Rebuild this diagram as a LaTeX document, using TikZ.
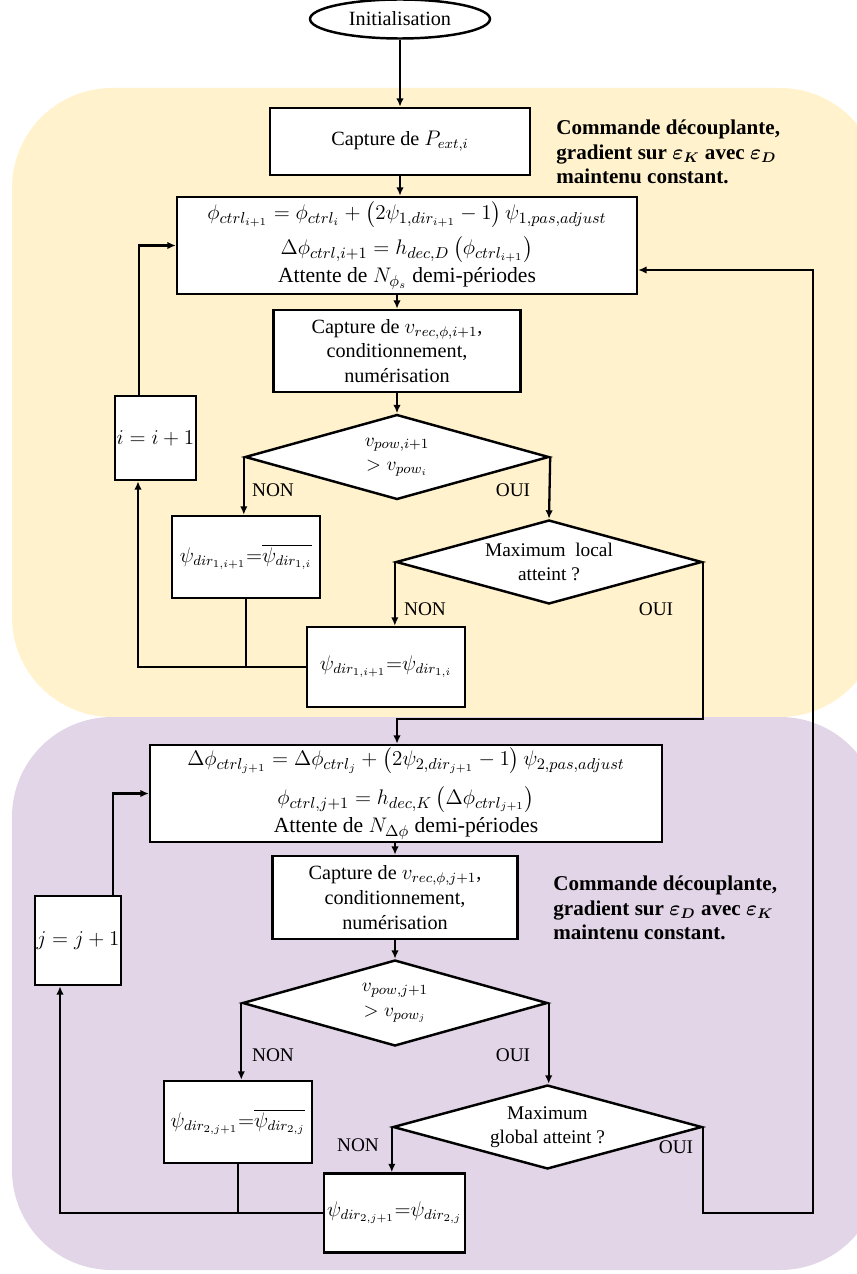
\documentclass[tikz,border=0pt]{standalone}
\usepackage{amsmath,amssymb}
\usepackage{bm}
\usepackage{fontspec}
\setmainfont{Liberation Serif}
\usepackage{tikz}
\usetikzlibrary{arrows.meta,positioning,calc,shapes.geometric}
\definecolor{zoneK}{HTML}{FFF2CC}
\definecolor{zoneD}{HTML}{E1D5E7}

\begin{document}
\begin{tikzpicture}[x=0.02cm,y=-0.02cm,
  stepbox/.style={draw,fill=white,line width=1.4pt,align=center,inner sep=1pt,font=\fontsize{11.5}{14}\selectfont},
  bigbox/.style={stepbox,font=\fontsize{12.3}{15}\selectfont},
  decision/.style={diamond,aspect=3.6,draw,fill=white,line width=1.4pt,align=center,inner sep=0pt,font=\fontsize{11}{14}\selectfont},
  arr/.style={line width=1.3pt,-{Latex[length=1.7mm,width=1.5mm]}},
  link/.style={line width=1.3pt},
  tag/.style={font=\fontsize{11}{13}\selectfont,inner sep=0pt},
  note/.style={align=left,inner sep=0pt,font=\bfseries\fontsize{12}{14}\selectfont}]
  \useasboundingbox (0,0) rectangle (856,1274);
  % background zones
  \fill[zoneK,rounded corners=2cm] (12,88) rectangle (880,717);
  \fill[zoneD,rounded corners=2cm] (12,717) rectangle (880,1270);
  % zone notes
  \node[note,anchor=west] (noteK) at (556,152) {Commande découplante,\\gradient sur $\bm{\varepsilon_K}$ avec $\bm{\varepsilon_D}$\\maintenu constant.};
  \node[note,anchor=west] (noteD) at (553,908) {Commande découplante,\\gradient sur $\bm{\varepsilon_D}$ avec $\bm{\varepsilon_K}$\\maintenu constant.};
  % first loop
  \node[ellipse,draw,fill=white,line width=1.4pt,minimum width=3.6cm,minimum height=0.78cm,font=\fontsize{11.5}{14}\selectfont] (init) at (400,19) {Initialisation};
  \node[stepbox,minimum width=5.2cm,minimum height=1.34cm] (pext) at (400,141.5) {Capture de $P_{ext,i}$};
  \node[bigbox,minimum width=9.2cm,minimum height=1.94cm] (upd1) at (407,245.5)
    {$\phi_{ctrl_{i+1}}=\phi_{ctrl_i}+\left(2\psi_{1,dir_{i+1}}-1\right)\psi_{1,pas,adjust}$\\[5pt]
     $\Delta\phi_{ctrl,i+1}=h_{dec,D}\left(\phi_{ctrl_{i+1}}\right)$\\[1pt]
     Attente de $N_{\phi_s}$ demi-périodes};
  \node[stepbox,minimum width=4.94cm,minimum height=1.64cm] (cap1) at (397,351) {Capture de $v_{rec,\phi,i+1}$,\\conditionnement,\\numérisation};
  \node[decision,minimum width=6.08cm,minimum height=1.7cm] (test1) at (397,457) {$v_{pow,i+1}$\\$>v_{pow_i}$};
  \node[decision,minimum width=6.12cm,minimum height=1.68cm] (max1) at (549,562) {Maximum~~local\\atteint ?};
  \node[stepbox,minimum width=1.5cm,minimum height=1.68cm] (inc1) at (155.5,438) {$i=i+1$};
  \node[stepbox,minimum width=2.96cm,minimum height=1.64cm] (inv1) at (246,557) {$\psi_{dir_{1,i+1}}{=}\overline{\psi_{dir_{1,i}}}$};
  \node[stepbox,minimum width=3.16cm,minimum height=1.6cm] (keep1) at (386,667) {$\psi_{dir_{1,i+1}}{=}\psi_{dir_{1,i}}$};
  \node[tag] (non1) at (273,490) {NON};
  \node[tag] (oui1) at (513,490) {OUI};
  \node[tag] (non2) at (425,609) {NON};
  \node[tag] (oui2) at (656,609) {OUI};
  % second loop
  \node[bigbox,minimum width=10.24cm,minimum height=1.94cm] (upd2) at (406,793.5)
    {$\Delta\phi_{ctrl_{j+1}}=\Delta\phi_{ctrl_j}+\left(2\psi_{2,dir_{j+1}}-1\right)\psi_{2,pas,adjust}$\\[7pt]
     $\phi_{ctrl,j+1}=h_{dec,K}\left(\Delta\phi_{ctrl_{j+1}}\right)$\\[1pt]
     Attente de $N_{\Delta\phi}$ demi-périodes};
  \node[stepbox,minimum width=4.9cm,minimum height=1.66cm] (cap2) at (395,897.5) {Capture de $v_{rec,\phi,j+1}$,\\conditionnement,\\numérisation};
  \node[decision,minimum width=6.1cm,minimum height=1.72cm] (test2) at (395,1003) {$v_{pow,j+1}$\\$>v_{pow_j}$};
  \node[decision,minimum width=6.18cm,minimum height=1.68cm] (max2) at (547.5,1127) {Maximum\\global atteint ?};
  \node[stepbox,minimum width=1.6cm,minimum height=1.78cm] (inc2) at (78,940.5) {$j=j+1$};
  \node[stepbox,minimum width=2.96cm,minimum height=1.64cm] (inv2) at (238,1122) {$\psi_{dir_{2,j+1}}{=}\overline{\psi_{dir_{2,j}}}$};
  \node[stepbox,minimum width=2.82cm,minimum height=1.58cm] (keep2) at (394.5,1213) {$\psi_{dir_{2,j+1}}{=}\psi_{dir_{2,j}}$};
  \node[tag] (non3) at (273,1055) {NON};
  \node[tag] (oui3) at (513,1055) {OUI};
  \node[tag] (non4) at (358,1145) {NON};
  \node[tag] (oui4) at (676,1147) {OUI};
  % bends of the return paths
  \coordinate (back1) at (397,719);
  \coordinate (back2) at (813,1213);
  % connectors, first loop
  \draw[arr] (init) -- (pext);
  \draw[arr] (pext.south) -- (pext.south |- upd1.north);
  \draw[arr] (cap1.north |- upd1.south) -- (cap1);
  \draw[arr] (cap1) -- (test1);
  \draw[arr] (test1.west) -- (test1.west |- inv1.north);
  \draw[arr] (test1.east) -- (max1.north);
  \draw[arr] (max1.west) -- (max1.west |- keep1.north);
  \draw[arr] (max1.east) |- (back1) -- (back1 |- upd2.north);
  \draw[link] (inv1.south) -- (inv1.south |- keep1.west);
  \draw[arr] (keep1.west) -| ([xshift=-0.35cm]inc1.south);
  \draw[arr] ([xshift=-0.33cm]inc1.north) |- (upd1.west);
  % connectors, second loop
  \draw[arr] (cap2.north |- upd2.south) -- (cap2);
  \draw[arr] (cap2) -- (test2);
  \draw[arr] (test2.west) -- (test2.west |- inv2.north);
  \draw[arr] (test2.east) -- (test2.east |- max2.north);
  \draw[arr] (max2.west) -- (max2.west |- keep2.north);
  \draw[link] (inv2.south) -- (inv2.south |- keep2.west);
  \draw[arr] (keep2.west) -| ([xshift=-0.36cm]inc2.south);
  \draw[arr] ([xshift=0.7cm]inc2.north) |- (upd2.west);
  \draw[arr] (max2.east) |- (back2) |- ([yshift=-0.49cm]upd1.east);
\end{tikzpicture}
\end{document}
